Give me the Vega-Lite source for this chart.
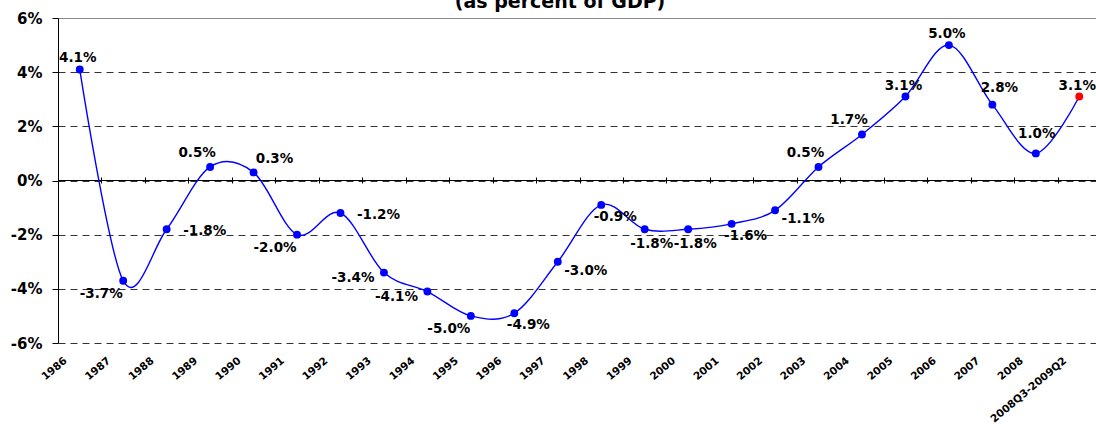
{
  "$schema": "https://vega.github.io/schema/vega-lite/v6.json",
  "width": 1038,
  "height": 325,
  "autosize": {"type": "none"},
  "padding": {"left": 58, "top": 18, "right": 0, "bottom": 83},
  "title": {
    "text": "(as percent of GDP)",
    "font": "DejaVu Sans",
    "fontSize": 19,
    "fontWeight": "bold",
    "color": "black",
    "baseline": "alphabetic",
    "offset": 0,
    "dx": -17,
    "dy": 16,
    "anchor": "middle"
  },
  "config": {
    "view": {"stroke": null},
    "font": "DejaVu Sans",
    "locale": {"number": {"decimal": ".", "thousands": ",", "grouping": [3], "currency": ["$", ""], "minus": "-"}}
  },
  "data": {
    "values": [
      {"year": "1986", "balance": 0.041},
      {"year": "1987", "balance": -0.037},
      {"year": "1988", "balance": -0.018},
      {"year": "1989", "balance": 0.005},
      {"year": "1990", "balance": 0.003},
      {"year": "1991", "balance": -0.020},
      {"year": "1992", "balance": -0.012},
      {"year": "1993", "balance": -0.034},
      {"year": "1994", "balance": -0.041},
      {"year": "1995", "balance": -0.050},
      {"year": "1996", "balance": -0.049},
      {"year": "1997", "balance": -0.030},
      {"year": "1998", "balance": -0.009},
      {"year": "1999", "balance": -0.018},
      {"year": "2000", "balance": -0.018},
      {"year": "2001", "balance": -0.016},
      {"year": "2002", "balance": -0.011},
      {"year": "2003", "balance": 0.005},
      {"year": "2004", "balance": 0.017},
      {"year": "2005", "balance": 0.031},
      {"year": "2006", "balance": 0.050},
      {"year": "2007", "balance": 0.028},
      {"year": "2008", "balance": 0.010},
      {"year": "2008Q3-2009Q2", "balance": 0.031}
    ]
  },
  "encoding": {
    "y": {"field": "balance", "type": "quantitative", "scale": {"domain": [-0.06, 0.06], "nice": false, "zero": false},
      "axis": {"title": null, "values": [-0.06, -0.04, -0.02, 0, 0.02, 0.04, 0.06], "format": ".0%",
        "domainColor": "black", "domainWidth": 1, "tickColor": "black", "tickSize": 6, "labelPadding": 10,
        "labelFont": "DejaVu Sans", "labelFontSize": 15, "labelFontWeight": "bold", "labelColor": "black",
        "grid": true,
        "gridColor": {"condition": {"test": "datum.value > 0.05", "value": "#8a8a8a"}, "value": "#333333"},
        "gridDash": {"condition": {"test": "datum.value > 0.05", "value": []}, "value": [7, 5]},
        "gridWidth": 1}}
  },
  "layer": [
    {
      "mark": {"type": "rule", "color": "black", "strokeWidth": 1},
      "encoding": {"y": {"datum": 0, "type": "quantitative"}}
    },
    {
      "mark": {"type": "line", "color": "#0000FF", "strokeWidth": 1.4, "interpolate": "cardinal"},
      "encoding": {
        "x": {"field": "year", "type": "nominal", "sort": null,
          "scale": {"type": "band", "paddingInner": 0, "paddingOuter": 0, "range": [0, 1043]},
          "axis": {"orient": "bottom", "title": null, "domain": false, "ticks": false, "tickSize": 0, "grid": false,
            "labelPadding": 16, "labelAngle": -40, "labelAlign": "right", "labelBaseline": "middle", "labelOffset": -14,
            "labelFont": "DejaVu Sans", "labelFontSize": 10.5, "labelFontWeight": "bold", "labelColor": "black",
            "labelOverlap": false, "labelBound": false, "labelFlush": false, "labelLimit": 0}}
      }
    },
    {
      "mark": {"type": "circle", "size": 62, "opacity": 1},
      "encoding": {
        "x": {"field": "year", "type": "nominal", "sort": null,
          "axis": {"orient": "top", "offset": -165, "title": null, "labels": false, "domain": false, "grid": false,
            "ticks": true, "tickSize": 6, "tickColor": "black", "tickWidth": 1, "tickBand": "extent"}},
        "color": {"condition": {"test": "datum.year === '2008Q3-2009Q2'", "value": "#FF0000"}, "value": "#0000FF"}
      }
    },
    {
      "transform": [{"filter": {"field": "year", "oneOf": ["1986", "2005", "2006", "2008Q3-2009Q2"]}}],
      "mark": {"type": "text", "dx": -2, "dy": -11, "font": "DejaVu Sans", "fontSize": 13.5, "fontWeight": "bold", "color": "black", "baseline": "middle"},
      "encoding": {"x": {"field": "year", "type": "nominal", "sort": null, "axis": null}, "text": {"field": "balance", "type": "quantitative", "format": ".1%"}}
    },
    {
      "transform": [{"filter": {"field": "year", "oneOf": ["1989", "2003", "2004"]}}],
      "mark": {"type": "text", "dx": -13, "dy": -14, "font": "DejaVu Sans", "fontSize": 13.5, "fontWeight": "bold", "color": "black", "baseline": "middle"},
      "encoding": {"x": {"field": "year", "type": "nominal", "sort": null, "axis": null}, "text": {"field": "balance", "type": "quantitative", "format": ".1%"}}
    },
    {
      "transform": [{"filter": {"field": "year", "oneOf": ["1990"]}}],
      "mark": {"type": "text", "dx": 21, "dy": -13, "font": "DejaVu Sans", "fontSize": 13.5, "fontWeight": "bold", "color": "black", "baseline": "middle"},
      "encoding": {"x": {"field": "year", "type": "nominal", "sort": null, "axis": null}, "text": {"field": "balance", "type": "quantitative", "format": ".1%"}}
    },
    {
      "transform": [{"filter": {"field": "year", "oneOf": ["2007"]}}],
      "mark": {"type": "text", "dx": 7, "dy": -17, "font": "DejaVu Sans", "fontSize": 13.5, "fontWeight": "bold", "color": "black", "baseline": "middle"},
      "encoding": {"x": {"field": "year", "type": "nominal", "sort": null, "axis": null}, "text": {"field": "balance", "type": "quantitative", "format": ".1%"}}
    },
    {
      "transform": [{"filter": {"field": "year", "oneOf": ["2008"]}}],
      "mark": {"type": "text", "dx": 1, "dy": -19, "font": "DejaVu Sans", "fontSize": 13.5, "fontWeight": "bold", "color": "black", "baseline": "middle"},
      "encoding": {"x": {"field": "year", "type": "nominal", "sort": null, "axis": null}, "text": {"field": "balance", "type": "quantitative", "format": ".1%"}}
    },
    {
      "transform": [{"filter": {"field": "year", "oneOf": ["1988", "1992"]}}],
      "mark": {"type": "text", "dx": 38, "dy": 2, "font": "DejaVu Sans", "fontSize": 13.5, "fontWeight": "bold", "color": "black", "baseline": "middle"},
      "encoding": {"x": {"field": "year", "type": "nominal", "sort": null, "axis": null}, "text": {"field": "balance", "type": "quantitative", "format": ".1%"}}
    },
    {
      "transform": [{"filter": {"field": "year", "oneOf": ["1997", "2002"]}}],
      "mark": {"type": "text", "dx": 28, "dy": 9, "font": "DejaVu Sans", "fontSize": 13.5, "fontWeight": "bold", "color": "black", "baseline": "middle"},
      "encoding": {"x": {"field": "year", "type": "nominal", "sort": null, "axis": null}, "text": {"field": "balance", "type": "quantitative", "format": ".1%"}}
    },
    {
      "transform": [{"filter": {"field": "year", "oneOf": ["1993", "1994"]}}],
      "mark": {"type": "text", "dx": -31, "dy": 5, "font": "DejaVu Sans", "fontSize": 13.5, "fontWeight": "bold", "color": "black", "baseline": "middle"},
      "encoding": {"x": {"field": "year", "type": "nominal", "sort": null, "axis": null}, "text": {"field": "balance", "type": "quantitative", "format": ".1%"}}
    },
    {
      "transform": [{"filter": {"field": "year", "oneOf": ["1987", "1991", "1995"]}}],
      "mark": {"type": "text", "dx": -22, "dy": 13, "font": "DejaVu Sans", "fontSize": 13.5, "fontWeight": "bold", "color": "black", "baseline": "middle"},
      "encoding": {"x": {"field": "year", "type": "nominal", "sort": null, "axis": null}, "text": {"field": "balance", "type": "quantitative", "format": ".1%"}}
    },
    {
      "transform": [{"filter": {"field": "year", "oneOf": ["1996", "1998", "2001"]}}],
      "mark": {"type": "text", "dx": 14, "dy": 12, "font": "DejaVu Sans", "fontSize": 13.5, "fontWeight": "bold", "color": "black", "baseline": "middle"},
      "encoding": {"x": {"field": "year", "type": "nominal", "sort": null, "axis": null}, "text": {"field": "balance", "type": "quantitative", "format": ".1%"}}
    },
    {
      "transform": [{"filter": {"field": "year", "oneOf": ["1999", "2000"]}}],
      "mark": {"type": "text", "dx": 7, "dy": 15, "font": "DejaVu Sans", "fontSize": 13.5, "fontWeight": "bold", "color": "black", "baseline": "middle"},
      "encoding": {"x": {"field": "year", "type": "nominal", "sort": null, "axis": null}, "text": {"field": "balance", "type": "quantitative", "format": ".1%"}}
    }
  ],
  "resolve": {"axis": {"x": "independent"}}
}
